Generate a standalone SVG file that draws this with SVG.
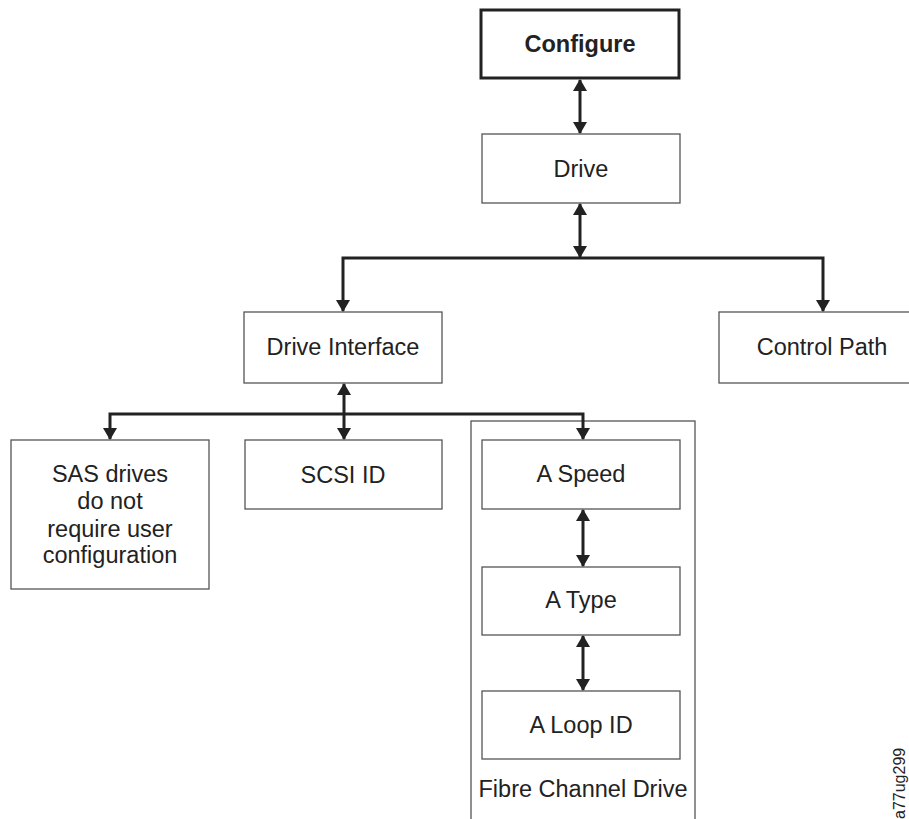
<svg xmlns="http://www.w3.org/2000/svg" width="909" height="819" viewBox="0 0 909 819">
<style>
.box{fill:#fff;stroke:#555;stroke-width:1.3}
.main{fill:#fff;stroke:#222;stroke-width:3}
.t{font-family:"Liberation Sans",Arial,sans-serif;font-size:23.5px;fill:#222;text-anchor:middle}
.b{font-weight:bold}
.c{fill:none;stroke:#222;stroke-width:3}
</style>
<defs>
<marker id="ah" viewBox="0 0 12 14" refX="11" refY="7" markerWidth="12" markerHeight="14" markerUnits="userSpaceOnUse" orient="auto-start-reverse">
<path d="M0,0 L12,7 L0,14 z" fill="#222"/>
</marker>
</defs>
<g id="fibre-group">
<rect class="box" x="471" y="421" width="224" height="410"/>
<text class="t" x="583" y="797">Fibre Channel Drive</text>
</g>
<g id="configure">
<rect class="main" x="481" y="10" width="198" height="68"/>
<text class="t b" x="580" y="52">Configure</text>
</g>
<g id="drive">
<rect class="box" x="482" y="134" width="198" height="69"/>
<text class="t" x="581" y="177">Drive</text>
</g>
<g id="drive-interface">
<rect class="box" x="244" y="312" width="198" height="71"/>
<text class="t" x="343" y="355">Drive Interface</text>
</g>
<g id="control-path">
<rect class="box" x="719" y="312" width="200" height="71"/>
<text class="t" x="822" y="355">Control Path</text>
</g>
<g id="sas">
<rect class="box" x="11" y="440" width="198" height="149"/>
<text class="t" x="110" y="482">SAS drives</text>
<text class="t" x="110" y="509">do not</text>
<text class="t" x="110" y="537">require user</text>
<text class="t" x="110" y="563">configuration</text>
</g>
<g id="scsi-id">
<rect class="box" x="245" y="440" width="197" height="69"/>
<text class="t" x="343" y="483">SCSI ID</text>
</g>
<g id="a-speed">
<rect class="box" x="482" y="440" width="198" height="69"/>
<text class="t" x="581" y="482">A Speed</text>
</g>
<g id="a-type">
<rect class="box" x="482" y="567" width="198" height="68"/>
<text class="t" x="581" y="608">A Type</text>
</g>
<g id="a-loop-id">
<rect class="box" x="482" y="691" width="198" height="68"/>
<text class="t" x="581" y="733">A Loop ID</text>
</g>
<g id="connectors">
<path class="c" d="M580,80 L580,133" marker-start="url(#ah)" marker-end="url(#ah)"/>
<path class="c" d="M580,204 L580,257" marker-start="url(#ah)" marker-end="url(#ah)"/>
<path class="c" d="M343,311 L343,258 L823,258 L823,311" marker-start="url(#ah)" marker-end="url(#ah)"/>
<path class="c" d="M344,384 L344,439" marker-start="url(#ah)" marker-end="url(#ah)"/>
<path class="c" d="M110,439 L110,414 L583,414 L583,439" marker-start="url(#ah)" marker-end="url(#ah)"/>
<path class="c" d="M583,510 L583,566" marker-start="url(#ah)" marker-end="url(#ah)"/>
<path class="c" d="M583,636 L583,690" marker-start="url(#ah)" marker-end="url(#ah)"/>
</g>
<text font-family="Liberation Sans,Arial,sans-serif" font-size="16" fill="#222" transform="translate(905,819) rotate(-90)">a77ug299</text>
</svg>
